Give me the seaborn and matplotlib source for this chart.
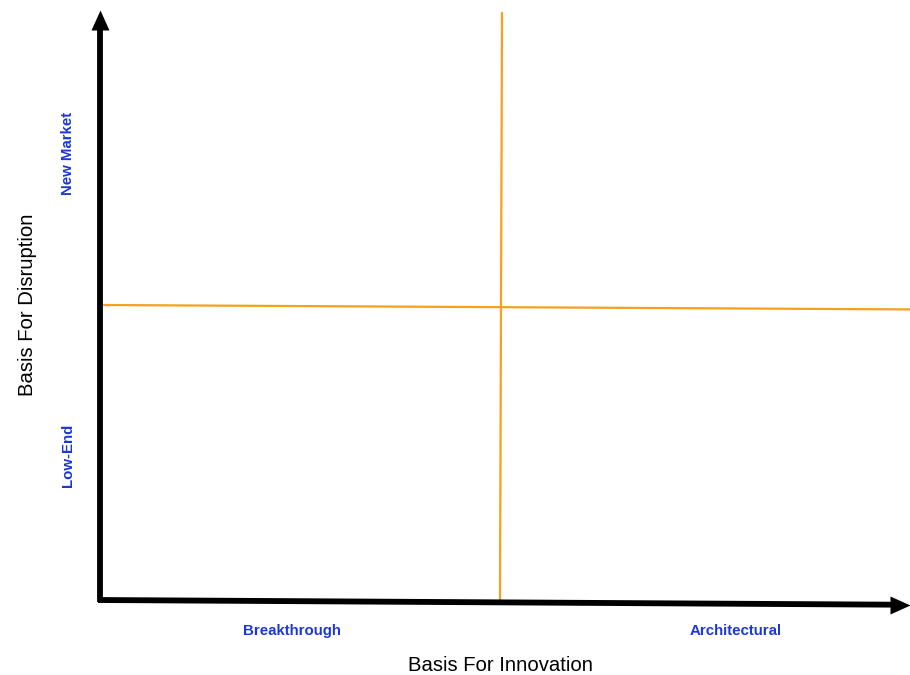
import numpy as np
import pandas as pd
import seaborn as sns
import matplotlib.pyplot as plt

# quadrant diagram data
x_labels = ["Breakthrough", "Architectural"]
x_label_pos = [0.48, 1.59]
y_labels = ["Low-End", "New Market"]
y_label_pos = [0.49, 1.515]
x_title = "Basis For Innovation"
y_title = "Basis For Disruption"

# divider lines (x, y pairs)
v_div_x = [1.0, 1.005]
v_div_y = [0.0, 1.99]
h_div_x = [0.01, 2.025]
h_div_y = [1.0, 0.985]

# axis arrows: start and tip
x_arrow = ([-0.005, 2.0], [0.0, -0.016])
x_tip = (2.025, -0.016)
y_arrow = ([0.0, 0.0], [-0.008, 1.95])
y_tip = (0.0, 2.0)

sns.set_style("white")
plt.rcParams['font.family'] = ['Liberation Sans', 'DejaVu Sans']

fig = plt.figure(figsize=(9.1, 6.75), dpi=100)
# axes area in figure fraction: left 100px, right 900px, bottom 600px, top 10px
ax = fig.add_axes([100 / 910, 75 / 675, 800 / 910, 590 / 675])
ax.set_xlim(0, 2)
ax.set_ylim(0, 2)

orange = "#F5A01E"
blue = "#1C36D8"

df_v = pd.DataFrame({"x": v_div_x, "y": v_div_y})
df_h = pd.DataFrame({"x": h_div_x, "y": h_div_y})
sns.lineplot(data=df_v, x="x", y="y", color=orange, lw=1.6, ax=ax,
             sort=False, estimator=None, clip_on=False)
sns.lineplot(data=df_h, x="x", y="y", color=orange, lw=1.6, ax=ax,
             sort=False, estimator=None, clip_on=False)

# black axis arrows (shaft + filled triangular head)
ax.plot(*x_arrow, color="black", lw=4.2, solid_capstyle="butt", clip_on=False)
ax.plot(*y_arrow, color="black", lw=4.2, solid_capstyle="butt", clip_on=False)
head_up = [(0, 0), (-0.9, -2), (0.9, -2), (0, 0)]
head_right = [(0, 0), (-2, 0.9), (-2, -0.9), (0, 0)]
ax.plot([y_tip[0]], [y_tip[1]], marker=head_up, markersize=28.8,
        color="black", markeredgewidth=0, clip_on=False)
ax.plot([x_tip[0]], [x_tip[1]], marker=head_right, markersize=28.8,
        color="black", markeredgewidth=0, clip_on=False)

for s in ax.spines.values():
    s.set_visible(False)

ax.set_xticks(x_label_pos)
ax.set_xticklabels(x_labels, color=blue, fontweight="bold", fontsize=10.8)
ax.set_yticks(y_label_pos)
ax.set_yticklabels(y_labels, color=blue, fontweight="bold", fontsize=10.8,
                   rotation=90, va="center")
ax.tick_params(axis="x", length=0, pad=17)
ax.tick_params(axis="y", length=0, pad=18)

ax.set_xlabel(x_title, fontsize=14.6, labelpad=13, color="black")
ax.set_ylabel(y_title, fontsize=14.6, labelpad=17, color="black")

fig.savefig("out.png", dpi=100)
